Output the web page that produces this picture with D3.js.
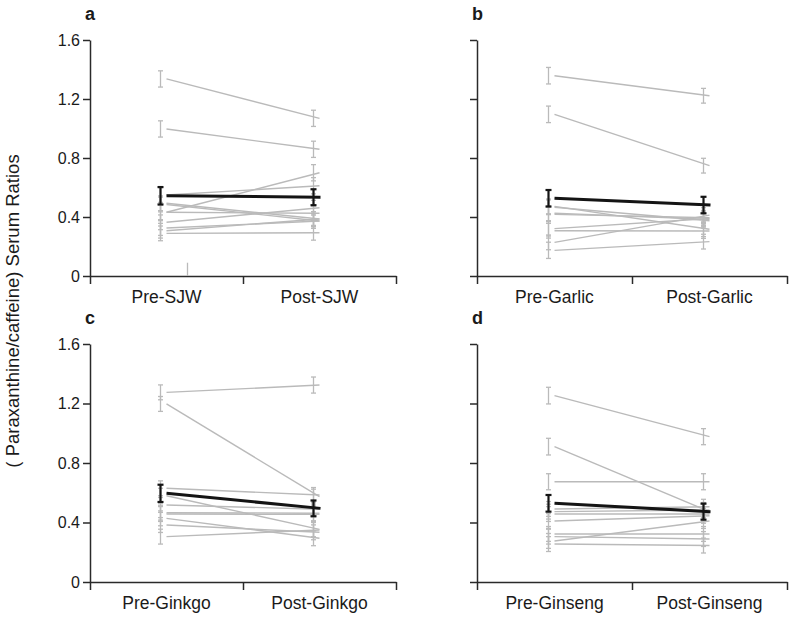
<!DOCTYPE html>
<html>
<head>
<meta charset="utf-8">
<script src="https://cdn.jsdelivr.net/npm/d3@7/dist/d3.min.js"></script>
<style>
body { margin:0; background:#fff; }
svg text { font-family: "Liberation Sans", Arial, sans-serif; fill:#1a1a1a; }
</style>
</head>
<body>
<div id="chart"></div>
<script>
'use strict';

// tick values shared by all four panels
var yTicks = [0, 0.4, 0.8, 1.2, 1.6];
var panelLetters = ['a', 'b', 'c', 'd'];

// a: St John's wort
var sjwCats = ['Pre-SJW', 'Post-SJW'];
var sjwPre = [1.336, 0.997, 0.549, 0.432, 0.493, 0.485, 0.432, 0.364, 0.325, 0.307, 0.289];
var sjwPost = [1.069, 0.859, 0.612, 0.700, 0.386, 0.373, 0.425, 0.463, 0.373, 0.386, 0.293];
var sjwErrPre = [0.055, 0.055, 0.05, 0.05, 0.05, 0.05, 0.05, 0.05, 0.05, 0.05, 0.05];
var sjwErrPost = [0.055, 0.055, 0.055, 0.055, 0.05, 0.05, 0.05, 0.05, 0.05, 0.05, 0.05];
var sjwMean = [0.544, 0.534];
var sjwMeanErr = [0.059, 0.054];
var sjwStray = [0.045]; // lone error bar near zero, no line
var sjwStrayErr = [0.045];

// b: garlic
var garlicCats = ['Pre-Garlic', 'Post-Garlic'];
var garlicPre = [1.358, 1.096, 0.472, 0.466, 0.425, 0.418, 0.321, 0.307, 0.228, 0.174];
var garlicPost = [1.222, 0.748, 0.317, 0.375, 0.384, 0.395, 0.390, 0.305, 0.413, 0.233];
var garlicErrPre = [0.056, 0.056, 0.05, 0.05, 0.05, 0.05, 0.05, 0.05, 0.05, 0.055];
var garlicErrPost = [0.05, 0.05, 0.05, 0.05, 0.05, 0.05, 0.05, 0.05, 0.05, 0.05];
var garlicMean = [0.527, 0.481];
var garlicMeanErr = [0.056, 0.056];

// c: ginkgo
var ginkgoCats = ['Pre-Ginkgo', 'Post-Ginkgo'];
var ginkgoPre = [1.275, 1.197, 0.630, 0.580, 0.518, 0.466, 0.457, 0.428, 0.383, 0.305];
var ginkgoPost = [1.324, 0.574, 0.585, 0.354, 0.489, 0.462, 0.455, 0.294, 0.334, 0.350];
var ginkgoErrPre = [0.05, 0.05, 0.05, 0.05, 0.05, 0.05, 0.05, 0.05, 0.05, 0.05];
var ginkgoErrPost = [0.054, 0.05, 0.05, 0.05, 0.05, 0.05, 0.05, 0.05, 0.05, 0.05];
var ginkgoMean = [0.596, 0.495];
var ginkgoMeanErr = [0.058, 0.053];

// d: ginseng
var ginsengCats = ['Pre-Ginseng', 'Post-Ginseng'];
var ginsengPre = [1.253, 0.910, 0.674, 0.491, 0.473, 0.457, 0.410, 0.276, 0.323, 0.305, 0.255];
var ginsengPost = [0.977, 0.473, 0.674, 0.506, 0.484, 0.457, 0.445, 0.410, 0.323, 0.289, 0.245];
var ginsengErrPre = [0.056, 0.056, 0.054, 0.05, 0.05, 0.05, 0.05, 0.05, 0.05, 0.05, 0.05];
var ginsengErrPost = [0.054, 0.05, 0.054, 0.05, 0.05, 0.05, 0.05, 0.05, 0.05, 0.05, 0.05];
var ginsengMean = [0.529, 0.473];
var ginsengMeanErr = [0.056, 0.054];

var panels = [
	{ letter: panelLetters[0], cats: sjwCats, pre: sjwPre, post: sjwPost, errPre: sjwErrPre, errPost: sjwErrPost, mean: sjwMean, meanErr: sjwMeanErr, stray: sjwStray, strayErr: sjwStrayErr, col: 0, row: 0 },
	{ letter: panelLetters[1], cats: garlicCats, pre: garlicPre, post: garlicPost, errPre: garlicErrPre, errPost: garlicErrPost, mean: garlicMean, meanErr: garlicMeanErr, stray: [], strayErr: [], col: 1, row: 0 },
	{ letter: panelLetters[2], cats: ginkgoCats, pre: ginkgoPre, post: ginkgoPost, errPre: ginkgoErrPre, errPost: ginkgoErrPost, mean: ginkgoMean, meanErr: ginkgoMeanErr, stray: [], strayErr: [], col: 0, row: 1 },
	{ letter: panelLetters[3], cats: ginsengCats, pre: ginsengPre, post: ginsengPost, errPre: ginsengErrPre, errPost: ginsengErrPost, mean: ginsengMean, meanErr: ginsengMeanErr, stray: [], strayErr: [], col: 1, row: 1 }
];

main();

function main(){
	//configuration
	var width = 800,
		height = 621,
		cols = [90, 477],
		rows = [40, 344],
		plotW = [306, 310],
		plotH = [236, 238],
		barShift = 6,      // error bars sit a little left of the line ends
		grey = '#bababa',
		ink = '#141414';

	var svg = d3.select('#chart')
		.append('svg')
			.attr('width', width)
			.attr('height', height);

	// shared y title
	svg.append('text')
		.attr('transform', 'translate(19,' + (rows[0] + (rows[1] + plotH[1] - rows[0]) / 2) + ') rotate(-90)')
		.attr('text-anchor', 'middle')
		.style('font-size', '18.5px')
		.attr('fill', '#2a2a2a')
		.text('( Paraxanthine/caffeine) Serum Ratios');

	panels.forEach(function(p){
		var x0 = cols[p.col],
			y0 = rows[p.row],
			w = plotW[p.col],
			h = plotH[p.row];

		var g = svg.append('g')
			.attr('transform', 'translate(' + x0 + ',' + y0 + ')');

		var x = d3.scalePoint().domain(p.cats).range([0, w]).padding(0.5);
		var y = d3.scaleLinear().domain([0, 1.6]).range([h, 0]);
		var edges = d3.scaleLinear().domain([0, 2]).range([0, w]);

		// axes
		var yAxis = g.append('g')
			.call(d3.axisLeft(y)
				.tickValues(yTicks)
				.tickSize(7)
				.tickSizeOuter(0)
				.tickPadding(3)
				.tickFormat(p.col === 0 ? d3.format('') : function(){ return ''; }));

		var xAxis = g.append('g')
			.attr('transform', 'translate(0,' + h + ')')
			.call(d3.axisBottom(edges)
				.tickValues([0, 1, 2])
				.tickSize(8)
				.tickSizeOuter(0)
				.tickFormat(''));

		[yAxis, xAxis].forEach(function(a){
			a.selectAll('path, line')
				.attr('stroke', '#2a2a2a')
				.attr('stroke-width', 1.5);
			a.selectAll('text')
				.style('font-size', '16px')
				.attr('fill', '#1a1a1a');
		});

		g.selectAll('.cat')
			.data(p.cats)
			.enter()
			.append('text')
				.attr('class', 'cat')
				.attr('x', function(d){ return x(d); })
				.attr('y', h + 27)
				.attr('text-anchor', 'middle')
				.style('font-size', '17.5px')
				.text(function(d){ return d; });

		// panel letter
		svg.append('text')
			.attr('x', x0 - 5)
			.attr('y', y0 - 20)
			.style('font-size', '18px')
			.style('font-weight', 'bold')
			.text(p.letter);

		var xPre = x(p.cats[0]),
			xPost = x(p.cats[1]);

		function errorBar(sel, cx, v, e, cap, colour, sw){
			var b = sel.append('g')
				.attr('stroke', colour)
				.attr('stroke-width', sw);
			b.append('line')
				.attr('x1', cx).attr('x2', cx)
				.attr('y1', y(v - e)).attr('y2', y(v + e));
			b.append('line')
				.attr('x1', cx - cap).attr('x2', cx + cap)
				.attr('y1', y(v - e)).attr('y2', y(v - e));
			b.append('line')
				.attr('x1', cx - cap).attr('x2', cx + cap)
				.attr('y1', y(v + e)).attr('y2', y(v + e));
		}

		// individual subjects
		var subjects = p.pre.map(function(d, i){
			return { pre: d, post: p.post[i], ePre: p.errPre[i], ePost: p.errPost[i] };
		});

		var grp = g.append('g').attr('class', 'subjects');
		subjects.forEach(function(s){
			errorBar(grp, xPre - barShift, s.pre, s.ePre, 2.5, grey, 1.3);
			errorBar(grp, xPost - barShift, s.post, s.ePost, 2.5, grey, 1.3);
		});

		grp.selectAll('.subject')
			.data(subjects)
			.enter()
			.append('line')
				.attr('class', 'subject')
				.attr('x1', xPre)
				.attr('x2', xPost)
				.attr('y1', function(d){ return y(d.pre); })
				.attr('y2', function(d){ return y(d.post); })
				.attr('stroke', grey)
				.attr('stroke-width', 1.4);

		p.stray.forEach(function(v, i){
			errorBar(grp, xPre + 21, v, p.strayErr[i], 0, grey, 1.3);
		});

		// group mean
		var mg = g.append('g').attr('class', 'mean');
		errorBar(mg, xPre - barShift, p.mean[0], p.meanErr[0], 3, ink, 2.2);
		errorBar(mg, xPost - barShift, p.mean[1], p.meanErr[1], 3, ink, 2.2);
		mg.append('line')
			.attr('x1', xPre)
			.attr('x2', xPost + 1)
			.attr('y1', y(p.mean[0]))
			.attr('y2', y(p.mean[1]))
			.attr('stroke', ink)
			.attr('stroke-width', 3);
	});
}
</script>
</body>
</html>
